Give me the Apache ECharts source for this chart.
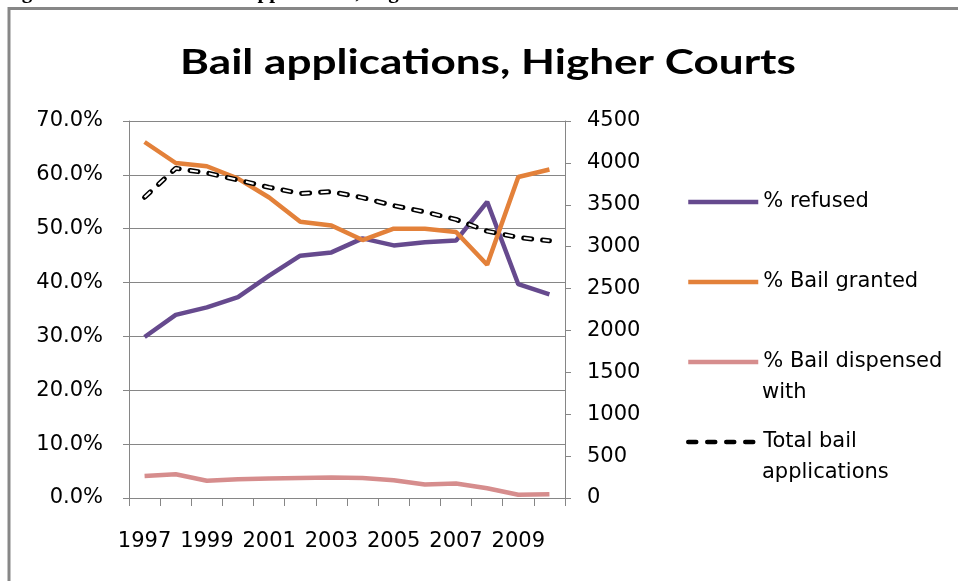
<!DOCTYPE html>
<html>
<head>
<meta charset="utf-8">
<script src="https://cdn.jsdelivr.net/npm/echarts@6/dist/echarts.min.js"></script>
<style>
html,body{margin:0;padding:0;background:#fff;}
#chart{width:958px;height:581px;}
</style>
</head>
<body>
<div id="chart"></div>
<script>
const years = ['1997','1998','1999','2000','2001','2002','2003','2004','2005','2006','2007','2008','2009','2010'];
const refused = [29.9, 34.0, 35.4, 37.3, 41.3, 45.0, 45.6, 48.2, 46.9, 47.5, 47.8, 55.0, 39.7, 37.8];
const granted = [66.1, 62.2, 61.6, 59.3, 55.8, 51.3, 50.6, 47.9, 50.0, 50.0, 49.4, 43.3, 59.6, 61.0];
const dispensed = [4.1, 4.4, 3.2, 3.5, 3.6, 3.7, 3.8, 3.7, 3.3, 2.5, 2.7, 1.8, 0.6, 0.7];
const totalApps = [3590, 3935, 3880, 3796, 3708, 3635, 3656, 3585, 3490, 3415, 3325, 3185, 3110, 3070];
const leftTicks = {min: 0, max: 70, interval: 10};
const rightTicks = {min: 0, max: 4500, interval: 500};

const FONT = '"DejaVu Sans"';
const chart = echarts.init(document.getElementById('chart'));
const names = ['% refused', '% Bail granted', '% Bail dispensed with', 'Total bail applications'];
const firstLine = {
  '% refused': '% refused',
  '% Bail granted': '% Bail granted',
  '% Bail dispensed with': '% Bail dispensed',
  'Total bail applications': 'Total bail'
};
chart.setOption({
  animation: false,
  backgroundColor: '#fff',
  graphic: [
    {type: 'rect', shape: {x: 9, y: 8.5, width: 1200, height: 1200},
     style: {fill: 'none', stroke: '#878787', lineWidth: 3}, silent: true},
    {type: 'text', x: 3, y: -18,
     style: {text: 'Figure 3: Outcomes of bail applications, Higher Courts', fill: '#000',
       font: 'bold 21px "Liberation Serif"'}},
    {type: 'text', x: 488, y: 63, scaleX: 1.26, originX: 0, originY: 0,
     style: {text: 'Bail applications, Higher Courts', fill: '#000', align: 'center', verticalAlign: 'middle',
       font: 'bold 35px Lato'}},
    {type: 'text', x: 762, y: 393,
     style: {text: 'with', fill: '#000', verticalAlign: 'middle', font: '21px ' + FONT}},
    {type: 'text', x: 762, y: 473,
     style: {text: 'applications', fill: '#000', verticalAlign: 'middle', font: '21px ' + FONT}}
  ],
  legend: {
    orient: 'vertical',
    left: 686, top: 190, padding: 0,
    itemWidth: 70, itemHeight: 24, itemGap: 56,
    data: names,
    formatter: n => firstLine[n],
    itemStyle: {opacity: 0},
    lineStyle: {width: 4.5},
    textStyle: {fontFamily: FONT, fontSize: 21, color: '#000', lineHeight: 24},
    selectedMode: false
  },
  grid: {left: 129, right: 393, top: 121, bottom: 83},
  xAxis: {
    type: 'category', data: years, boundaryGap: true,
    axisLine: {lineStyle: {color: '#868686', width: 1}},
    axisTick: {show: true, length: 8, interval: 0, lineStyle: {color: '#868686'}},
    axisLabel: {interval: 1, margin: 33, fontFamily: FONT, fontSize: 21, color: '#000'}
  },
  yAxis: [
    {
      type: 'value', min: leftTicks.min, max: leftTicks.max, interval: leftTicks.interval,
      axisLine: {show: true, lineStyle: {color: '#868686'}},
      axisTick: {show: true, length: 6, lineStyle: {color: '#868686'}},
      splitLine: {show: true, lineStyle: {color: '#868686', width: 1}},
      axisLabel: {formatter: v => v.toFixed(1) + '%', margin: 26, fontFamily: FONT, fontSize: 21, color: '#000'}
    },
    {
      type: 'value', min: rightTicks.min, max: rightTicks.max, interval: rightTicks.interval, position: 'right',
      axisLine: {show: true, lineStyle: {color: '#868686'}},
      axisTick: {show: true, length: 6, lineStyle: {color: '#868686'}},
      splitLine: {show: false},
      axisLabel: {formatter: v => String(v), margin: 22, fontFamily: FONT, fontSize: 21, color: '#000'}
    }
  ],
  series: [
    {name: '% refused', type: 'line', data: refused, yAxisIndex: 0, symbol: 'none',
     lineStyle: {color: '#664A8E', width: 4.5}, itemStyle: {color: '#664A8E'}},
    {name: '% Bail granted', type: 'line', data: granted, yAxisIndex: 0, symbol: 'none',
     lineStyle: {color: '#E3813A', width: 4.5}, itemStyle: {color: '#E3813A'}},
    {name: '% Bail dispensed with', type: 'line', data: dispensed, yAxisIndex: 0, symbol: 'none',
     lineStyle: {color: '#D68D8D', width: 4.5}, itemStyle: {color: '#D68D8D'}},
    {name: 'Total bail applications', type: 'line', data: totalApps, yAxisIndex: 1, symbol: 'none', z: 5,
     lineStyle: {color: '#000', width: 5, type: [8, 11], cap: 'round'}, itemStyle: {color: '#000'}},
    {name: 'Total inner', type: 'line', data: totalApps, yAxisIndex: 1, symbol: 'none', z: 6,
     lineStyle: {color: '#fff', width: 2, type: [8, 11], cap: 'butt'}, itemStyle: {color: '#fff'}}
  ]
});
</script>
</body>
</html>
